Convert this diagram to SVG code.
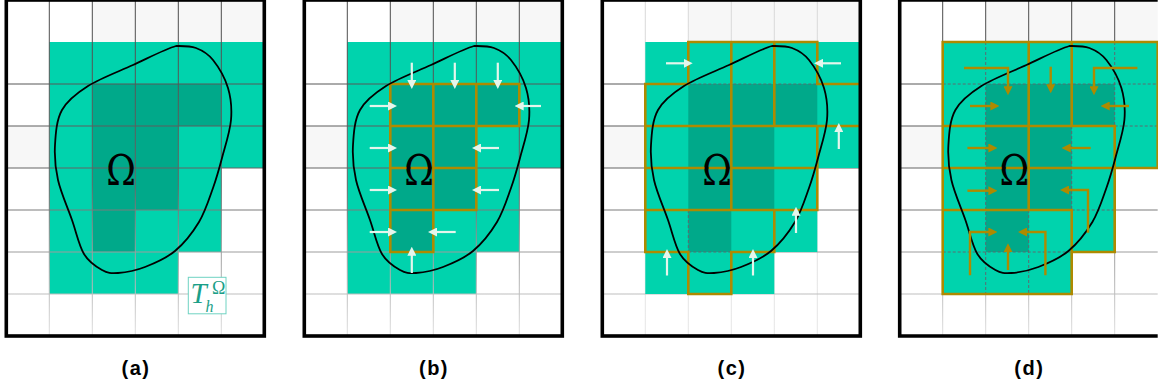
<svg xmlns="http://www.w3.org/2000/svg" width="1158" height="392" viewBox="0 0 1158 392">
<style>
.bg{fill:#ffffff}
.lg{fill:#f7f7f7}
.teal{fill:#00d3ad}
.dark{fill:#00a98a}
.grid{stroke:url(#gv);stroke-width:1;fill:none}
.gridc{stroke:url(#gvc);stroke-width:1;fill:none}
.gold{stroke:#ae8a00;stroke-width:2.6;fill:none;stroke-linecap:square}
.dash{stroke:#66606a;stroke-width:0.9;fill:none;stroke-dasharray:3 2}
.curve{stroke:#000;stroke-width:1.8;fill:none}
.frame{stroke:#000;stroke-width:3.6;fill:none}
.om{font-family:"DejaVu Serif","Liberation Serif",serif;font-size:42px;fill:#000;text-anchor:middle}
.warr{stroke:#e4f6ec;stroke-width:2.2;fill:none;marker-end:url(#mw)}
.garr{stroke:#ae8a00;stroke-width:2.4;fill:none;stroke-linejoin:miter;marker-end:url(#mg)}
.lab{font-family:"Liberation Sans",Arial,sans-serif;font-weight:bold;font-size:20px;letter-spacing:1.5px;text-anchor:middle;fill:#000}
.tl{font-family:"Liberation Serif","DejaVu Serif",serif;fill:#1b9f88}
</style>
<defs>
<linearGradient id="gv" gradientUnits="userSpaceOnUse" x1="0" y1="0" x2="0" y2="336">
<stop offset="0" stop-color="#4a4a4a"/><stop offset="0.55" stop-color="#666666"/><stop offset="1" stop-color="#e0e0e0"/>
</linearGradient>
<linearGradient id="gvc" gradientUnits="userSpaceOnUse" x1="0" y1="0" x2="0" y2="336">
<stop offset="0" stop-color="#d8d8d8"/><stop offset="1" stop-color="#e6e6e6"/>
</linearGradient>
<marker id="mw" markerUnits="userSpaceOnUse" viewBox="0 0 9 9" markerWidth="9" markerHeight="9" refX="3" refY="4.5" orient="auto"><path d="M0,0L9,4.5L0,9z" fill="#e4f6ec"/></marker>
<marker id="mg" markerUnits="userSpaceOnUse" viewBox="0 0 9 9" markerWidth="9" markerHeight="9" refX="3" refY="4.5" orient="auto"><path d="M0,0L9,4.5L0,9z" fill="#ae8a00"/></marker>
<path id="tealp" d="M49.3,42H264.3V168H221.3V252H178.3V294H49.3Z"/>
<path id="darkp" d="M92.3,84H221.3V126H178.3V210H135.3V252H92.3Z"/>
<path id="vgrid" d="M49.3,0V336M92.3,0V336M135.3,0V336M178.3,0V336M221.3,0V336"/>
<path id="hgrid" d="M6.3,84H264.3M6.3,126H264.3M6.3,168H264.3M6.3,210H264.3M6.3,252H264.3M6.3,294H264.3"/>
<path id="omega" d="M176,46C165.5,48.83 147.67,58.33 133,65C118.33,71.67 99.83,78.5 88,86C76.17,93.5 67.5,100.17 62,110C56.5,119.830 55.67,133.33 55,145C54.33,156.67 55.17,167.5 58,180C60.83,192.5 67.67,207.67 72,220C76.33,232.33 79,245.67 84,254C89,262.33 96.33,266.83 102,270C107.67,273.17 110.83,273.5 118,273C125.17,272.5 135.5,270.67 145,267C154.5,263.33 166,258.5 175,251C184,243.5 192.67,232.5 199,222C205.33,211.5 209.17,198.67 213,188C216.83,177.33 219,169.33 222,158C225,146.67 230,131.67 231,120C232,108.33 231,98 228,88C225,78 218.33,66.67 213,60C207.67,53.33 202.17,50.33 196,48C189.83,45.67 182.17,46 176,46Z"/>
</defs>

<g id="panel-a">
<rect class="bg" x="6.3" y="0" width="258" height="336"/>
<rect class="lg" x="92.3" y="0" width="172" height="42"/>
<rect class="lg" x="6.3" y="126" width="43" height="42"/>
<use href="#tealp" class="teal"/>
<use href="#darkp" class="dark"/>
<use href="#vgrid" class="grid"/>
<use href="#hgrid" class="grid"/>
<use href="#omega" class="curve"/>
<text class="om" transform="translate(121,185) scale(0.85,1.02)">Ω</text>
<g id="label-Th">
<rect x="188.3" y="277.3" width="37.7" height="36.5" fill="#ffffff" stroke="#6fd3c2" stroke-width="1"/>
<text class="tl" x="190.5" y="303" font-size="29" font-style="italic">T</text>
<text class="tl" x="205.5" y="311.5" font-size="16" font-style="italic">h</text>
<text class="tl" x="212" y="294" font-size="18">Ω</text>
</g>
<rect class="frame" x="6.3" y="0" width="258" height="336"/>
<text class="lab" x="136" y="375">(a)</text>
</g>

<g id="panel-b" transform="translate(298,0)">
<rect class="bg" x="6.3" y="0" width="258" height="336"/>
<rect class="lg" x="92.3" y="0" width="172" height="42"/>
<rect class="lg" x="6.3" y="126" width="43" height="42"/>
<use href="#tealp" class="teal"/>
<use href="#darkp" class="dark"/>
<use href="#vgrid" class="grid"/>
<use href="#hgrid" class="grid"/>
<path class="gold" d="M92.3,84H221.3M92.3,126H221.3M92.3,168H178.3M92.3,210H178.3M92.3,252H135.3M92.3,84V252M135.3,84V252M178.3,84V210M221.3,84V126"/>
<use href="#omega" class="curve"/>
<g id="arrows-b">
<path class="warr" d="M113.8,62.7V83"/>
<path class="warr" d="M156.8,62.7V83"/>
<path class="warr" d="M199.8,62.7V83"/>
<path class="warr" d="M71.7,106H93"/>
<path class="warr" d="M71.7,148H93"/>
<path class="warr" d="M71.7,190H93"/>
<path class="warr" d="M71.7,232H93"/>
<path class="warr" d="M243,106H222.7"/>
<path class="warr" d="M201,148H180"/>
<path class="warr" d="M201,190H180"/>
<path class="warr" d="M157.7,232H136"/>
<path class="warr" d="M113.8,273V252.7"/>
</g>
<text class="om" transform="translate(121,185) scale(0.85,1.02)">Ω</text>
<rect class="frame" x="6.3" y="0" width="258" height="336"/>
<text class="lab" x="136" y="375">(b)</text>
</g>

<g id="panel-c" transform="translate(596,0)">
<rect class="bg" x="6.3" y="0" width="258" height="336"/>
<rect class="lg" x="92.3" y="0" width="172" height="42"/>
<rect class="lg" x="6.3" y="126" width="43" height="42"/>
<use href="#vgrid" class="gridc"/>
<use href="#hgrid" class="grid"/>
<use href="#tealp" class="teal"/>
<use href="#darkp" class="dark"/>
<path class="dash" d="M92.3,84H221.3M92.3,210V252M92.3,252H135.3"/>
<path class="gold" d="M92.3,42H221.3M49.3,84H92.3M221.3,84H264.3M49.3,126H264.3M49.3,168H221.3M49.3,210H221.3M49.3,252H92.3M135.3,252H178.3M92.3,294H135.3M49.3,84V252M92.3,42V84M92.3,252V294M135.3,42V210M135.3,252V294M178.3,42V126M178.3,210V252M221.3,42V84M221.3,126V210"/>
<use href="#omega" class="curve"/>
<g id="arrows-c">
<path class="warr" d="M70,63.3H90.7"/>
<path class="warr" d="M245,63.3H224"/>
<path class="warr" d="M242.8,149V129"/>
<path class="warr" d="M71,275.5V255"/>
<path class="warr" d="M157,275.5V255"/>
<path class="warr" d="M200,233V212.7"/>
</g>
<text class="om" transform="translate(121,185) scale(0.85,1.02)">Ω</text>
<rect class="frame" x="6.3" y="0" width="258" height="336"/>
<text class="lab" x="136" y="375">(c)</text>
</g>

<g id="panel-d" transform="translate(893.4,0)">
<rect class="bg" x="6.3" y="0" width="258" height="336"/>
<rect class="lg" x="92.3" y="0" width="172" height="42"/>
<rect class="lg" x="6.3" y="126" width="43" height="42"/>
<use href="#vgrid" class="grid"/>
<use href="#hgrid" class="grid"/>
<use href="#tealp" class="teal"/>
<use href="#darkp" class="dark"/>
<path class="dash" d="M92.3,42V294M49.3,84H264.3M221.3,42V126M221.3,126H264.3M178.3,126V210M178.3,210H221.3M49.3,252H178.3M135.3,210V294"/>
<path class="gold" d="M49.3,42H264.3V168H221.3V252H178.3V294H49.3ZM135.3,42V210M178.3,42V126M49.3,126H221.3M221.3,126V168M49.3,168H221.3M49.3,210H178.3M178.3,210V252"/>
<use href="#omega" class="curve"/>
<g id="arrows-d">
<path class="garr" d="M70.6,68H114.6V89.3"/>
<path class="garr" d="M157.3,66.7V87.3"/>
<path class="garr" d="M244,68H200.6V89.3"/>
<path class="garr" d="M76.6,106H100"/>
<path class="garr" d="M235.6,106H213.3"/>
<path class="garr" d="M74,148H98"/>
<path class="garr" d="M197.3,148H174.3"/>
<path class="garr" d="M74,190.7H98"/>
<path class="garr" d="M194.6,232.7V190H172.6"/>
<path class="garr" d="M76.6,275.3V232H98"/>
<path class="garr" d="M114.6,270V249.3"/>
<path class="garr" d="M152,275.3V232H130.6"/>
</g>
<text class="om" transform="translate(121,185) scale(0.85,1.02)">Ω</text>
<path class="frame" d="M264.3,0H6.3V336H264.3"/>
<text class="lab" x="136" y="375">(d)</text>
</g>
</svg>
